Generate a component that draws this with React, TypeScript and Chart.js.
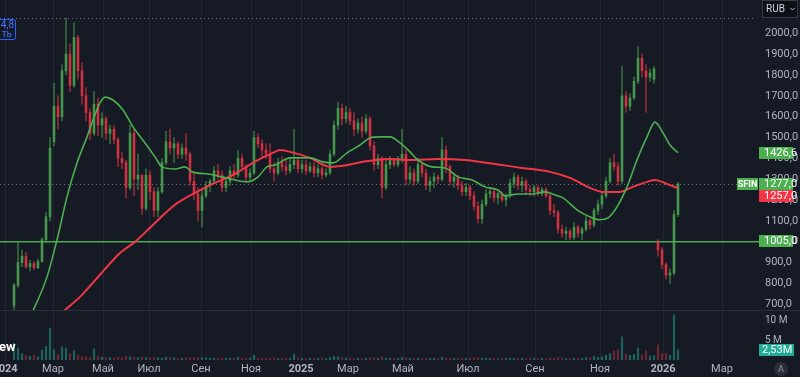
import React, { useEffect, useRef } from 'react';
import { Chart, registerables } from 'chart.js';
Chart.register(...registerables);

// ---- data (one candle ≈ a few trading sessions) ----
const opens = [690,790,900,930,880,895,875,905,1010,1120,1480,1650,1600,1820,1900,1750,1980,1820,1700,1620,1520,1660,1560,1590,1520,1540,1490,1400,1380,1260,1520,1300,1320,1160,1320,1240,1150,1240,1380,1480,1450,1470,1420,1450,1420,1290,1230,1150,1220,1270,1290,1340,1320,1260,1290,1340,1320,1400,1360,1310,1330,1500,1470,1440,1420,1350,1330,1380,1360,1340,1370,1390,1350,1370,1340,1360,1330,1350,1320,1330,1420,1560,1640,1590,1620,1580,1540,1570,1530,1590,1460,1370,1400,1260,1370,1390,1370,1400,1420,1300,1330,1290,1370,1330,1270,1290,1310,1300,1440,1360,1290,1310,1270,1240,1260,1220,1170,1110,1180,1230,1240,1210,1230,1200,1220,1280,1310,1270,1290,1250,1240,1260,1230,1250,1220,1150,1140,1060,1040,1050,1020,1070,1040,1060,1100,1080,1150,1180,1220,1290,1380,1360,1290,1700,1650,1690,1770,1880,1820,1790,1780,1000,960,890,840,850,1130];
const highs = [800,1000,960,950,910,905,915,1020,1140,1500,1760,1700,1850,2073,1950,2050,1990,1860,1740,1640,1720,1690,1620,1600,1560,1560,1500,1430,1390,1560,1540,1420,1320,1350,1340,1260,1260,1400,1530,1540,1500,1480,1470,1520,1430,1330,1260,1250,1290,1300,1360,1370,1340,1300,1360,1370,1440,1420,1370,1350,1530,1520,1490,1470,1470,1380,1400,1410,1390,1400,1540,1400,1390,1390,1380,1380,1370,1360,1350,1440,1580,1670,1660,1650,1640,1620,1590,1600,1610,1600,1480,1420,1410,1390,1410,1400,1410,1540,1440,1360,1350,1400,1380,1350,1310,1330,1320,1500,1460,1370,1330,1320,1290,1280,1270,1240,1190,1200,1250,1260,1250,1240,1240,1230,1300,1330,1320,1310,1300,1270,1270,1270,1260,1260,1230,1180,1150,1080,1070,1060,1090,1080,1070,1120,1110,1160,1200,1240,1310,1400,1420,1380,1840,1720,1710,1790,1935,1900,1850,1830,1840,1010,970,900,870,1150,1285];
const lows = [660,780,880,870,860,865,870,900,995,1100,1460,1540,1580,1800,1720,1740,1780,1660,1580,1490,1510,1510,1500,1490,1470,1470,1360,1350,1210,1250,1220,1250,1130,1150,1200,1120,1120,1230,1370,1420,1380,1400,1400,1390,1270,1200,1100,1070,1210,1240,1280,1300,1240,1240,1270,1300,1310,1340,1290,1290,1320,1450,1410,1400,1330,1290,1320,1340,1320,1330,1350,1330,1330,1320,1330,1310,1310,1300,1310,1320,1410,1540,1560,1570,1560,1510,1520,1500,1520,1440,1340,1350,1210,1250,1350,1360,1360,1380,1270,1280,1270,1280,1310,1250,1240,1260,1280,1290,1330,1270,1260,1250,1220,1220,1200,1150,1090,1085,1170,1210,1190,1180,1190,1170,1210,1260,1250,1240,1230,1220,1220,1220,1220,1210,1130,1120,1040,1020,1010,1010,1010,1020,1010,1050,1060,1070,1130,1160,1210,1280,1340,1270,1280,1620,1630,1680,1760,1790,1620,1770,1760,930,870,820,800,840,1120];
const closes = [790,900,930,880,895,875,905,1010,1120,1450,1650,1600,1820,1900,1750,1980,1820,1700,1620,1520,1660,1560,1590,1520,1540,1490,1400,1380,1260,1520,1300,1320,1160,1320,1240,1150,1240,1380,1480,1450,1470,1420,1450,1420,1290,1230,1150,1220,1270,1290,1340,1320,1260,1290,1340,1320,1400,1360,1310,1330,1500,1470,1440,1420,1350,1330,1380,1360,1340,1370,1390,1350,1370,1340,1360,1330,1350,1320,1330,1420,1560,1640,1590,1620,1580,1540,1570,1530,1590,1460,1370,1400,1260,1370,1390,1370,1400,1420,1300,1330,1290,1370,1330,1270,1290,1310,1300,1440,1360,1290,1310,1270,1240,1260,1220,1170,1110,1180,1230,1240,1210,1230,1200,1220,1280,1310,1270,1290,1250,1240,1260,1230,1250,1220,1150,1140,1060,1040,1050,1020,1070,1040,1060,1100,1080,1150,1180,1220,1290,1380,1360,1290,1700,1650,1690,1770,1880,1820,1790,1810,1830,960,890,840,850,1130,1277];
const volumes = [4.2,3.0,1.6,1.1,0.9,1.2,0.8,2.5,3.3,8.0,2.5,1.4,3.3,3.0,1.6,2.3,1.2,0.9,0.8,0.7,2.8,0.9,0.7,0.6,0.6,0.5,0.7,0.6,0.9,0.8,0.7,0.6,0.8,0.6,0.5,0.7,0.6,0.5,0.7,0.6,0.5,0.4,0.5,0.6,0.5,0.6,0.7,0.6,0.5,0.4,0.5,0.4,0.5,0.4,0.5,0.4,0.6,0.5,0.4,0.5,1.2,0.5,0.4,0.5,0.4,0.5,0.4,0.4,0.5,0.4,1.5,0.5,0.4,0.4,0.5,0.4,0.4,0.5,0.4,0.6,0.9,0.8,0.6,0.5,0.5,0.4,0.5,0.4,0.5,0.5,0.6,0.4,0.8,0.5,0.4,0.4,0.4,0.6,0.5,0.4,0.4,0.5,0.4,0.4,0.4,0.4,0.3,0.7,0.5,0.4,0.4,0.4,0.4,0.4,0.4,0.5,0.6,0.5,0.4,0.4,0.4,0.3,0.4,0.4,0.5,0.4,0.4,0.4,0.3,0.4,0.4,0.3,0.4,0.3,0.5,0.4,0.6,0.5,0.4,0.4,0.5,0.4,0.4,0.6,0.5,0.9,0.7,0.8,1.2,1.6,2.2,2.5,5.8,1.5,1.2,1.4,3.0,1.2,2.3,1.0,1.1,3.8,1.6,1.7,1.2,11.3,2.53];

// moving averages (bar index, value)
const maFastIdx = [4,8.25,10.75,13.25,15.75,18.25,19.75,21.5,22.75,24.75,27.25,29.75,32.75,35.25,37,40.25,42.75,44.5,48.5,52,55.25,58.5,61,63.25,65.25,69,74,77.25,79.75,83.25,86.5,89,91.5,94,96.5,99,101,104.5,107.75,111,114.5,117.75,121,122.75,126,129.5,132.75,135.25,137.25,140.75,144,146.5,148.5,150.75,153.25,155.75,158.25,160.25,162.25,164,166];
const maFastVal = [635,831,1009,1215,1378,1503,1584,1666,1694,1680,1632,1551,1474,1407,1359,1349,1359,1335,1325,1311,1296,1287,1311,1359,1368,1402,1402,1383,1378,1426,1464,1498,1503,1503,1474,1431,1392,1359,1354,1311,1296,1263,1248,1220,1229,1229,1239,1224,1210,1153,1119,1105,1114,1167,1263,1392,1503,1574,1522,1464,1426.6];
const maSlowIdx = [12,16.5,21.5,26.5,30.25,35.25,40.25,45.25,50.25,55.25,58.5,62,65.25,66.5,69,74,79,82.25,85.75,89,94,99,106,112.75,118.5,127,134,139,144,147.25,151.5,154.75,158.25,160.25,163.25,166];
const maSlowVal = [660,735,841,946,999,1090,1177,1234,1282,1325,1364,1402,1431,1440,1431,1402,1359,1364,1378,1388,1397,1392,1397,1392,1378,1354,1335,1306,1258,1239,1239,1263,1287,1296,1277,1257];

const tickIdx = [-2.25,9.75,22.25,33.75,46.75,59.25,71.75,83.5,97.25,113.5,130.25,146.5,162.25,177];
const tickLabels = ['2024','Мар','Май','Июл','Сен','Ноя','2025','Мар','Май','Июл','Сен','Ноя','2026','Мар'];
const priceTicks = [700,800,900,1000,1100,1200,1300,1400,1500,1600,1700,1800,1900,2000];
const volTicks = [5,10];
const supportLevel = 1005;
const ticker = 'SFIN';

// ---- styling ----
const BG = '#161a25';
const TEXT = '#b2b5be';
const GREEN = '#4caf50';
const RED = '#f23645';
const TEAL = '#22ab94';
const FONT = 'Roboto, "Noto Sans", sans-serif';

const fmt = (v: number) => v.toFixed(1).replace('.', ',');
const isUp = (i: number) => closes[i] >= opens[i];

const overlay = {
  id: 'overlay',
  beforeDraw(chart: any) {
    const { ctx, width, height } = chart;
    ctx.save();
    ctx.fillStyle = BG;
    ctx.fillRect(0, 0, width, height);
    ctx.restore();
  },
  beforeDatasetDraw(chart: any, args: any) {
    const ds = chart.data.datasets[args.index];
    if (ds.yAxisID !== 'y') return;
    const y = chart.scales.y;
    const { ctx, chartArea } = chart;
    ctx.save();
    ctx.beginPath();
    ctx.rect(0, y.top, chartArea.right, y.bottom - y.top);
    ctx.clip();
  },
  afterDatasetDraw(chart: any, args: any) {
    const ds = chart.data.datasets[args.index];
    if (ds.yAxisID !== 'y') return;
    chart.ctx.restore();
  },
  beforeDatasetsDraw(chart: any) {
    const { ctx, chartArea, width } = chart;
    const y = chart.scales.y;
    ctx.save();
    // pane divider
    ctx.fillStyle = '#2a2e39';
    ctx.fillRect(0, Math.round(y.bottom), width, 1);
    // dotted lines: period high and last price
    ctx.setLineDash([1, 3]);
    ctx.lineWidth = 1;
    ctx.strokeStyle = 'rgba(178,181,190,0.55)';
    for (const v of [Math.max(...highs), closes[closes.length - 1]]) {
      const py = Math.round(y.getPixelForValue(v)) + 0.5;
      ctx.beginPath();
      ctx.moveTo(0, py);
      ctx.lineTo(chartArea.right, py);
      ctx.stroke();
    }
    ctx.setLineDash([]);
    // support level
    ctx.fillStyle = GREEN;
    const sy = Math.round(y.getPixelForValue(supportLevel));
    ctx.fillRect(0, sy, chartArea.right + 4, 1);
    ctx.fillStyle = 'rgba(76,175,80,0.45)';
    ctx.fillRect(0, sy + 1, chartArea.right + 4, 1);
    ctx.restore();
  },
  afterDraw(chart: any) {
    const { ctx } = chart;
    const y = chart.scales.y;
    const yv = chart.scales.yv;
    ctx.save();
    ctx.textBaseline = 'middle';
    const H = 12;
    const boxes = [
      { v: maFastVal[maFastVal.length - 1], bg: GREEN, tag: '' },
      { v: closes[closes.length - 1], bg: GREEN, tag: ticker },
      { v: maSlowVal[maSlowVal.length - 1], bg: RED, tag: '' },
      { v: supportLevel, bg: GREEN, tag: '' },
    ]
      .map((b) => ({ ...b, py: y.getPixelForValue(b.v) }))
      .sort((a, b) => a.py - b.py);
    let prev = -1e9;
    for (const b of boxes) {
      const cy = Math.max(b.py, prev + H);
      prev = cy;
      ctx.fillStyle = b.bg;
      ctx.fillRect(759, Math.round(cy - H / 2), 34, H);
      ctx.fillStyle = '#ffffff';
      ctx.font = `11px ${FONT}`;
      ctx.textAlign = 'left';
      ctx.fillText(fmt(b.v), 764, cy + 0.5);
      if (b.tag) {
        ctx.fillStyle = b.bg;
        ctx.fillRect(737, Math.round(cy - H / 2), 21, H);
        ctx.fillStyle = '#ffffff';
        ctx.font = `bold 9px ${FONT}`;
        ctx.textAlign = 'center';
        ctx.fillText(b.tag, 747.5, cy + 0.5);
      }
    }
    // last volume label
    const lv = volumes[volumes.length - 1];
    const vy = yv.getPixelForValue(lv);
    ctx.fillStyle = TEAL;
    ctx.fillRect(759, Math.round(vy - H / 2), 35, H);
    ctx.fillStyle = '#ffffff';
    ctx.font = `11px ${FONT}`;
    ctx.textAlign = 'left';
    ctx.fillText(lv.toFixed(2).replace('.', ',') + 'M', 762, vy + 0.5);

    // currency box
    ctx.fillStyle = '#0e1018';
    ctx.strokeStyle = '#363a45';
    ctx.lineWidth = 1;
    ctx.fillRect(762.5, 0.5, 35, 17);
    ctx.strokeRect(762.5, 0.5, 35, 17);
    ctx.fillStyle = '#d1d4dc';
    ctx.font = `10px ${FONT}`;
    ctx.textAlign = 'left';
    ctx.fillText('RUB', 766, 9.5);
    ctx.strokeStyle = '#b2b5be';
    ctx.beginPath();
    ctx.moveTo(790.5, 8);
    ctx.lineTo(792.5, 10);
    ctx.lineTo(794.5, 8);
    ctx.stroke();

    // clipped top-left order box
    ctx.strokeStyle = '#2962ff';
    ctx.beginPath();
    ctx.roundRect(-6.5, 19.5, 22, 20, 2);
    ctx.stroke();
    ctx.fillStyle = '#3d74ff';
    ctx.font = `10px ${FONT}`;
    ctx.textAlign = 'right';
    ctx.fillText('4,8', 14, 25);
    ctx.fillText('ть', 12, 34);

    // logo remnant
    ctx.fillStyle = '#ffffff';
    ctx.font = `bold 13px ${FONT}`;
    ctx.textAlign = 'left';
    ctx.fillText('ew', -1, 348);

    // auto-scale button
    ctx.fillStyle = '#2a2e39';
    ctx.beginPath();
    ctx.arc(781, 369, 7, 0, Math.PI * 2);
    ctx.fill();
    ctx.fillStyle = '#9598a1';
    ctx.font = `9px ${FONT}`;
    ctx.textAlign = 'center';
    ctx.fillText('A', 781, 369.5);
    ctx.restore();
  },
};

function buildConfig(): any {
  const idx = closes.map((_, i) => i);
  return {
    type: 'bar',
    data: {
      datasets: [
        {
          type: 'line',
          label: 'MA fast',
          data: maFastIdx.map((x, k) => ({ x, y: maFastVal[k] })),
          borderColor: GREEN,
          borderWidth: 1.6,
          pointRadius: 0,
          cubicInterpolationMode: 'monotone',
          yAxisID: 'y',
          clip: false,
          order: 0,
        },
        {
          type: 'line',
          label: 'MA slow',
          data: maSlowIdx.map((x, k) => ({ x, y: maSlowVal[k] })),
          borderColor: RED,
          borderWidth: 2,
          pointRadius: 0,
          cubicInterpolationMode: 'monotone',
          yAxisID: 'y',
          clip: false,
          order: 1,
        },
        {
          label: 'bodies',
          data: idx.map((i) => ({ x: i, y: [opens[i], closes[i]] })),
          backgroundColor: idx.map((i) => (isUp(i) ? 'rgba(76,175,80,0.72)' : 'rgba(242,54,69,0.72)')),
          barThickness: 2,
          minBarLength: 1,
          grouped: false,
          yAxisID: 'y',
          clip: false,
          order: 2,
        },
        {
          label: 'wicks',
          data: idx.map((i) => ({ x: i, y: [lows[i], highs[i]] })),
          backgroundColor: idx.map((i) => (isUp(i) ? 'rgba(76,175,80,0.55)' : 'rgba(242,54,69,0.55)')),
          barThickness: 1,
          grouped: false,
          yAxisID: 'y',
          clip: false,
          order: 3,
        },
        {
          label: 'volume',
          data: idx.map((i) => ({ x: i, y: volumes[i] })),
          backgroundColor: idx.map((i) => (isUp(i) ? 'rgba(34,171,148,0.5)' : 'rgba(242,54,69,0.4)')),
          barThickness: 1.5,
          grouped: false,
          yAxisID: 'yv',
          order: 4,
        },
      ],
    },
    options: {
      responsive: false,
      animation: false,
      layout: { padding: 0 },
      plugins: { legend: { display: false }, tooltip: { enabled: false } },
      scales: {
        x: {
          type: 'linear',
          position: 'bottom',
          min: -3.5,
          max: 185.25,
          offset: false,
          grid: { display: true, offset: false, color: 'rgba(42,46,57,0.6)', drawTicks: false },
          border: { display: false },
          afterBuildTicks: (s: any) => { s.ticks = tickIdx.map((v) => ({ value: v })); },
          afterFit: (s: any) => { s.height = 17; s.paddingLeft = 0; s.paddingRight = 0; },
          ticks: {
            autoSkip: false,
            maxRotation: 0,
            padding: 3,
            color: TEXT,
            font: (c: any) => ({ family: FONT, size: 11, weight: /^\d{4}$/.test(tickLabels[c.index] || '') ? 'bold' : 'normal' }),
            callback: (_v: any, i: number) => tickLabels[i],
          },
        },
        y: {
          type: 'linear',
          position: 'right',
          stack: 'panes',
          stackWeight: 310,
          min: 672,
          max: 2160,
          grid: { display: false, drawTicks: false },
          border: { display: false },
          afterBuildTicks: (s: any) => { s.ticks = priceTicks.map((v) => ({ value: v })); },
          afterFit: (s: any) => { s.width = 45; s.paddingTop = 0; s.paddingBottom = 0; },
          ticks: { autoSkip: false, padding: 10, color: TEXT, font: { family: FONT, size: 11 }, callback: (v: any) => fmt(Number(v)) },
        },
        yv: {
          type: 'linear',
          position: 'right',
          stack: 'panes',
          stackWeight: 50,
          min: 0,
          max: 12.5,
          grid: { display: false, drawTicks: false },
          border: { display: false },
          afterBuildTicks: (s: any) => { s.ticks = volTicks.map((v) => ({ value: v })); },
          afterFit: (s: any) => { s.width = 45; s.paddingTop = 0; s.paddingBottom = 0; },
          ticks: { autoSkip: false, padding: 10, color: TEXT, font: { family: FONT, size: 10 }, callback: (v: any) => `${v} M` },
        },
      },
    },
    plugins: [overlay],
  };
}

export default function App() {
  const ref = useRef<HTMLCanvasElement>(null);
  useEffect(() => {
    document.body.style.margin = '0';
    document.body.style.background = BG;
    const chart = new Chart(ref.current as HTMLCanvasElement, buildConfig());
    return () => chart.destroy();
  }, []);
  return (
    <div style={{ position: 'fixed', left: 0, top: 0, width: 800, height: 377, background: BG }}>
      <canvas ref={ref} width={800} height={377} style={{ display: 'block', width: 800, height: 377 }} />
    </div>
  );
}
